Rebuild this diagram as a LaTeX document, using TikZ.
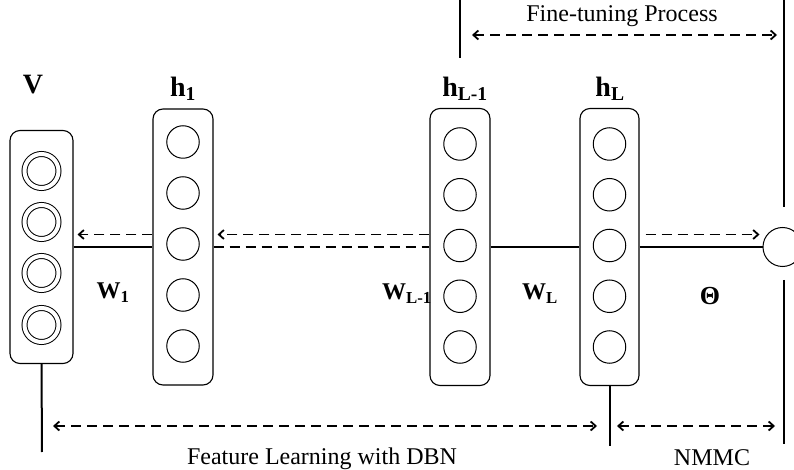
\documentclass[tikz,border=0pt]{standalone}
\usepackage{fontspec}
\setmainfont{Liberation Serif}
\usepackage{tikz}
\usetikzlibrary{arrows.meta}
\usetikzlibrary{positioning}
\tikzset{>={Straight Barb[length=5bp,width=9bp]}}
\tikzset{layer/.style = {rectangle, rounded corners=10bp, draw, line width=1.1bp, inner sep=0, minimum width=60bp, minimum height=277bp}}
\tikzset{unit/.style = {circle, draw, line width=1bp, inner sep=0, minimum size=32.5bp}}
\tikzset{vis/.style = {circle, draw, double, double distance=4bp, line width=1bp, inner sep=0, minimum size=34bp}}
\tikzset{bd/.style = {dashed, dash pattern=on 10bp off 6bp, line width=1.8bp}}
\tikzset{wire/.style = {-, line width=1.6bp}}
\tikzset{bar/.style = {-, line width=2bp}}
\tikzset{lbl/.style = {draw=none, inner sep=0, font=\fontsize{28bp}{30bp}\selectfont\bfseries}}
\tikzset{wlbl/.style = {draw=none, inner sep=0, font=\fontsize{24bp}{26bp}\selectfont\bfseries}}
\tikzset{txt/.style = {draw=none, inner sep=0, font=\fontsize{24bp}{28bp}\selectfont}}
\newcommand{\lsub}[2]{#1\textsubscript{#2}}

\begin{document}
\begin{tikzpicture}[x={(1bp,0)}, y={(0,-1bp)}]
\useasboundingbox (0,0) rectangle (794,470);
% layers
\node [layer, minimum width=63bp, minimum height=233bp] (vbox) at (41.5,247) {};
\node [layer, minimum height=276bp] (h1box) at (183,247) {};
\node [layer] (hlmbox) at (460,247) {};
\node [layer, minimum width=59bp] (hlbox) at (609.5,247) {};
\foreach \i/\y in {1/171,2/222,3/273,4/325}
  \node [vis] (v\i) at (41.5,\y) {};
\foreach \i in {1,...,5} {
  \node [unit] (a\i) at (183,{142+51*(\i-1)}) {};
  \node [unit] (b\i) at (460,{144+50.75*(\i-1)}) {};
  \node [unit] (c\i) at (609.5,{144+50.75*(\i-1)}) {};
}
\node [unit, minimum size=39bp] (out) at (782.5,247) {};
% labels
\node [lbl] (vlab) at (33,85) {V};
\node [lbl] (h1lab) at (183,89) {\lsub{h}{1}};
\node [lbl] (hlmlab) at (465,89) {\lsub{h}{L-1}};
\node [lbl] (hllab) at (610,89) {\lsub{h}{L}};
\node [wlbl] (w1) at (113,293) {\lsub{W}{1}};
\node [wlbl] (wlm) at (407,294) {\lsub{W}{L-1}};
\node [wlbl] (wl) at (540,294) {\lsub{W}{L}};
\node [wlbl, font=\fontsize{26bp}{28bp}\selectfont\bfseries] (theta) at (710,296) {Θ};
% connections
\draw [wire] (vbox.east) -- (h1box.west);
\draw [bd] (h1box.east) -- (hlmbox.west);
\draw [wire] (hlmbox.east) -- (hlbox.west);
\draw [wire] (hlbox.east) -- (out.west);
\draw [bd, ->, shorten >=4bp] ([yshift=12.5bp]h1box.west) -- ([yshift=12.5bp]vbox.east);
\draw [bd, ->, shorten >=4bp] ([yshift=12.5bp]hlmbox.west) -- ([yshift=12.5bp]h1box.east);
\draw [bd, ->, shorten <=6bp, shorten >=3bp] ([yshift=12.5bp]hlbox.east) -- ([yshift=12.5bp]hlbox.east -| out.west);
% stages
\coordinate (ftl) at (460,0);
\coordinate (ftlb) at (460,58);
\coordinate (ftr) at (784,0);
\coordinate (ftrb) at (784,207);
\coordinate (nmt) at (784,280);
\coordinate (nmb) at (784,444);
\coordinate (vb) at (42,452);
\coordinate (hlb) at (609.5,446);
\draw [bar] (ftl) -- (ftlb);
\draw [bar] (ftr) -- (ftrb);
\draw [bar] (nmt) -- (nmb);
\draw [bar] (vbox.south) -- (vb);
\draw [bar] (hlbox.south) -- (hlb);
\draw [bd, <->, shorten <=12bp, shorten >=7bp] (ftl |- 0,35) -- (ftr |- 0,35);
\draw [bd, <->, shorten <=11bp, shorten >=12.5bp] (vb |- 0,426) -- (hlb |- 0,426);
\draw [bd, <->, shorten <=7.5bp, shorten >=9bp] (hlb |- 0,426) -- (nmb |- 0,426);
\node [txt, anchor=base] (ft) at (622,22) {Fine-tuning Process};
\node [txt, anchor=base] (fl) at (322,464) {Feature Learning with DBN};
\node [txt, anchor=base] (nm) at (712,465) {NMMC};
\end{tikzpicture}
\end{document}
